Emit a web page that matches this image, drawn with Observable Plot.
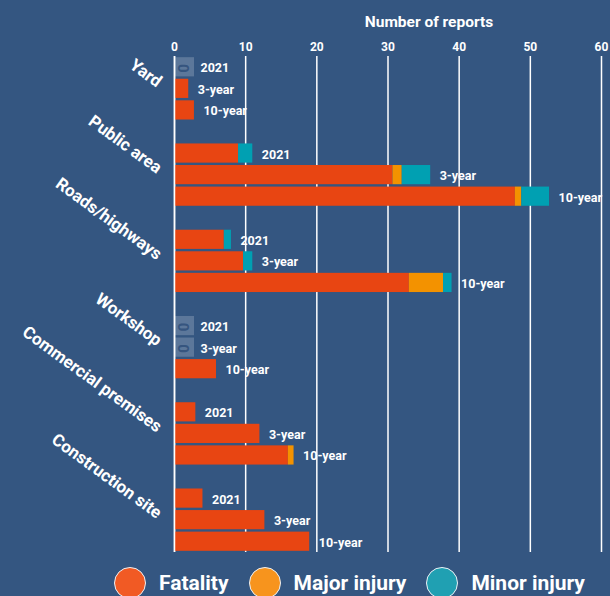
<!DOCTYPE html>
<html>
<head>
<meta charset="utf-8">
<script src="https://cdn.jsdelivr.net/npm/d3@7"></script>
<script src="https://cdn.jsdelivr.net/npm/@observablehq/plot@0.6"></script>
<style>
html, body { margin: 0; padding: 0; background: #345681; width: 610px; height: 596px; overflow: hidden; font-family: Roboto, sans-serif; }
#chart { position: absolute; left: 0; top: 0; }
#legend { position: absolute; left: 114px; top: 567px; height: 32px; display: flex; align-items: center; color: #fff; font-weight: 700; font-size: 21px; white-space: nowrap; }
#legend .sw { width: 30px; height: 30px; border-radius: 50%; border: 1px solid #eef2f6; flex: none; }
#legend .lab { margin-left: 13px; margin-right: 20px; }
</style>
</head>
<body>
<div id="chart"></div>
<div id="legend"></div>
<script>
// ---- data ----
const locations = ["Yard", "Public area", "Roads/highways", "Workshop", "Commercial premises", "Construction site"];
const periods = ["2021", "3-year", "10-year"];
const injuryTypes = ["Fatality", "Major injury", "Minor injury"];
// values per location, in period order [2021, 3-year, 10-year]
const fatality    = [[0, 2, 2.8], [9, 30.7, 47.9], [7, 9.7, 33.0], [0, 0, 5.9], [3, 12, 16.0], [4, 12.7, 19.0]];
const majorInjury = [[0, 0, 0],   [0, 1.3, 0.9],   [0, 0, 4.8],    [0, 0, 0],   [0, 0, 0.8],  [0, 0, 0]];
const minorInjury = [[0, 0, 0],   [2, 4.0, 3.9],   [1, 1.3, 1.2],  [0, 0, 0],   [0, 0, 0],    [0, 0, 0]];
const xTicks = [0, 10, 20, 30, 40, 50, 60];
const barColors = ["#e84512", "#f39200", "#00a0b2"];
const legendColors = ["#f15a24", "#f7941d", "#20a0b2"];
const axisTitle = "Number of reports";

// ---- build tables ----
const series = [fatality, majorInjury, minorInjury];
const keyOf = (loc, per) => loc + "|" + per;
const rows = [];
const totals = [];
const yDomain = [];
locations.forEach((loc, i) => {
  periods.forEach((per, j) => {
    const key = keyOf(loc, per);
    yDomain.push(key);
    let t = 0;
    injuryTypes.forEach((type, k) => {
      const v = series[k][i][j];
      t += v;
      if (v > 0) rows.push({key, type, value: v});
    });
    totals.push({key, period: per, total: t});
  });
  if (i < locations.length - 1) yDomain.push("gap" + i);
});
const nonZero = totals.filter(d => d.total > 0);
const zeros = totals.filter(d => d.total === 0);

const chart = Plot.plot({
  width: 610,
  height: 560,
  marginLeft: 174,
  marginRight: 9,
  marginTop: 56,
  marginBottom: 8,
  style: {background: "transparent", color: "white", fontFamily: "Roboto, sans-serif", fontWeight: 700, fontSize: "12px", overflow: "visible"},
  x: {domain: [0, 60], axis: "top", ticks: xTicks, tickSize: 0, tickPadding: 6, label: null},
  y: {domain: yDomain, axis: null, paddingInner: 0.11, paddingOuter: 0.055, round: false},
  color: {domain: injuryTypes, range: barColors},
  marks: [
    Plot.ruleX(xTicks, {stroke: "white", strokeWidth: 1.5}),
    Plot.barX(rows, {x: "value", y: "key", fill: "type", order: injuryTypes}),
    Plot.ruleX([0], {stroke: "white", strokeWidth: 1.5}),
    Plot.barX(zeros, {x1: () => 0, x2: () => 0, y: "key", insetLeft: 1, insetRight: -20, fill: "white", fillOpacity: 0.2}),
    Plot.text(zeros, {x: () => 0, y: "key", text: () => "0", rotate: 90, dx: 8, dy: 1, fill: "#36557f", fontSize: 15, fontWeight: 700}),
    Plot.text(nonZero, {x: "total", y: "key", text: "period", textAnchor: "start", dx: 9, dy: 1, fill: "white", fontSize: 12.5}),
    Plot.text(zeros, {x: () => 0, y: "key", text: "period", textAnchor: "start", dx: 26, dy: 1, fill: "white", fontSize: 12.5}),
    Plot.text(locations, {x: () => 0, y: d => keyOf(d, "3-year"), text: d => d, rotate: 36, textAnchor: "end", lineAnchor: "bottom", dx: -18, dy: -1, fill: "white", fontSize: 17, letterSpacing: 0.9}),
    Plot.text([axisTitle], {frameAnchor: "top", dx: 41, dy: -34, fill: "white", fontSize: 15.5, lineAnchor: "middle"})
  ]
});
document.getElementById("chart").appendChild(chart);

// ---- legend ----
const legend = document.getElementById("legend");
injuryTypes.forEach((t, i) => {
  const sw = document.createElement("span");
  sw.className = "sw";
  sw.style.background = legendColors[i];
  const lab = document.createElement("span");
  lab.className = "lab";
  lab.textContent = t;
  legend.appendChild(sw);
  legend.appendChild(lab);
});
</script>
</body>
</html>
